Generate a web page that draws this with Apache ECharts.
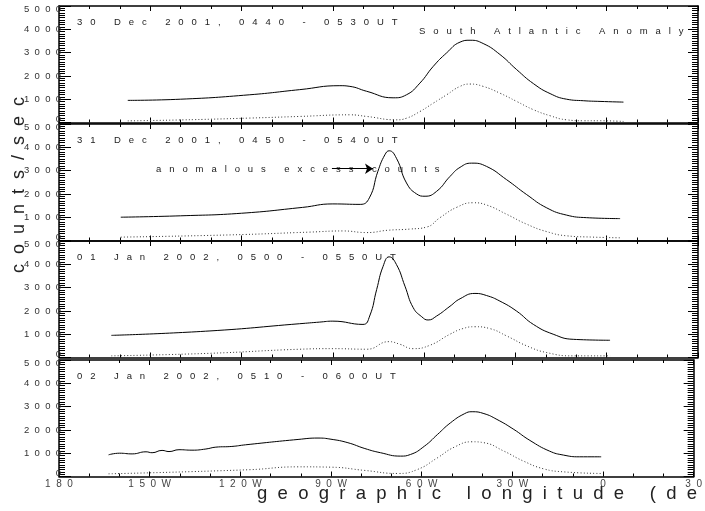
<!DOCTYPE html>
<html>
<head>
<meta charset="utf-8">
<script src="https://cdn.jsdelivr.net/npm/echarts@6/dist/echarts.min.js"></script>
<style>html,body{margin:0;padding:0;background:#fff}#chart{width:705px;height:511px}</style>
</head>
<body>
<div id="chart"></div>
<script>
// ---- data (longitude in degrees east, counts/sec) ----
const panelTitles = [
  '30 Dec 2001, 0440 - 0530UT',
  '31 Dec 2001, 0450 - 0540UT',
  '01 Jan 2002, 0500 - 0550UT',
  '02 Jan 2002, 0510 - 0600UT'
];
const saaLabel = 'South Atlantic Anomaly';
const excessLabel = 'anomalous excess counts';
const arrowStart = [-90.3, 3080];
const arrowEnd = [-76.8, 3080];

const xTickValues = [-180, -150, -120, -90, -60, -30, 0, 30];
const xTickLabels = ['180', '150W', '120W', '90W', '60W', '30W', '0', '30'];
const yTickValues = [0, 1000, 2000, 3000, 4000, 5000];

const lonS1 = [-157.4, -140, -117.3, -100.9, -87.7, -84.4, -78.9, -70.2, -65.8, -61.4, -57.0, -52.6, -48.2, -44.9, -40.6, -35.1, -29.6, -24.1, -18.6, -13.2, -7.7, -2.2, 5.5];
const valS1 = [950, 1000, 1190, 1410, 1580, 1550, 1340, 1060, 1190, 1690, 2410, 2990, 3450, 3530, 3390, 2920, 2270, 1670, 1240, 1000, 935, 905, 875];
const lonD1 = [-157.4, -140, -117.3, -100.9, -84.4, -78.9, -69.1, -65.8, -61.4, -57.0, -52.6, -48.2, -44.9, -40.6, -35.1, -29.6, -24.1, -18.6, -13.2, -7.7, -2.2, 5.5];
const valD1 = [70, 110, 190, 260, 330, 260, 115, 185, 470, 830, 1190, 1550, 1650, 1550, 1260, 905, 550, 290, 115, 75, 75, 45];

const lonS2 = [-159.7, -140, -120, -100, -90, -81, -78, -75.2, -72.9, -71.5, -69.1, -65.8, -62.5, -59.7, -55.9, -51.5, -48.2, -44.4, -39.5, -32.9, -26.3, -19.7, -13.2, -6.6, 4.4];
const valS2 = [1000, 1060, 1170, 1420, 1570, 1550, 1830, 2970, 3680, 3850, 3530, 2470, 2000, 1900, 2110, 2750, 3140, 3320, 3180, 2610, 1970, 1400, 1090, 980, 940];
const lonD2 = [-159.7, -123.9, -97.6, -86.7, -78.8, -71.9, -64.7, -59.1, -54.8, -49.2, -43.9, -39.4, -32.8, -26.3, -19.7, -13.1, -4.5, 4.4];
const valD2 = [145, 240, 360, 410, 340, 440, 490, 580, 980, 1430, 1620, 1520, 1120, 700, 380, 200, 145, 115];

const lonS3 = [-162.8, -130.4, -100.9, -94.3, -90.0, -80.1, -77.9, -75.6, -73.5, -71.5, -69.1, -66.3, -63.6, -60.8, -58.7, -55.9, -51.5, -48.2, -43.3, -39.5, -35.1, -29.6, -24.1, -17.6, -11.0, 1.1];
const valS3 = [950, 1140, 1450, 1520, 1560, 1420, 1780, 2920, 3910, 4320, 3990, 3060, 2140, 1750, 1610, 1780, 2200, 2520, 2750, 2660, 2420, 1990, 1420, 1000, 780, 740];
const lonD3 = [-162.8, -130.4, -100.9, -90.0, -78.8, -71.6, -68.0, -63.7, -58.1, -51.5, -47.3, -43.3, -38.4, -32.8, -26.3, -19.7, -11.1, 1.1];
const valD3 = [70, 180, 355, 380, 355, 680, 570, 380, 525, 1000, 1240, 1320, 1240, 920, 500, 210, 70, 70];

const lonS4 = [-163.6, -160.0, -155.8, -151.2, -149.2, -145.9, -143.6, -140.3, -136.0, -131.4, -128.1, -122.8, -118.3, -100.9, -94.3, -90.0, -84.4, -78.8, -73.6, -67.0, -63.7, -59.1, -54.8, -50.5, -45.9, -43.3, -39.4, -35.1, -29.5, -24.2, -17.7, -13.1, -7.8, -0.6];
const valS4 = [930, 1000, 970, 1060, 1020, 1120, 1070, 1150, 1130, 1180, 1260, 1290, 1360, 1590, 1650, 1600, 1450, 1200, 1020, 875, 945, 1300, 1800, 2300, 2690, 2780, 2700, 2450, 2020, 1550, 1090, 920, 845, 845];
const lonD4 = [-163.6, -117.3, -100.9, -90.0, -78.8, -67.9, -61.4, -54.8, -49.2, -43.3, -39.4, -32.8, -26.3, -19.7, -13.1, -0.6];
const valD4 = [115, 290, 415, 400, 260, 130, 300, 800, 1260, 1490, 1450, 1090, 660, 330, 200, 130];

const solidLon = [lonS1, lonS2, lonS3, lonS4];
const solidVal = [valS1, valS2, valS3, valS4];
const dotLon = [lonD1, lonD2, lonD3, lonD4];
const dotVal = [valD1, valD2, valD3, valD4];

// ---- layout / style ----
const FONT = 'Liberation Sans, Arial, Helvetica, sans-serif';
const panelTops = [6, 124, 241, 360];
const panelH = 116.5;
const spaced = (s, n) => s.split('').join(' '.repeat(n));
const zip = (a, b) => a.map((x, i) => [x, b[i]]);

const grids = panelTops.map(t => ({ left: 59, right: 7, top: t, height: panelH }));
const xAxes = [], yAxes = [], series = [];
for (let i = 0; i < 4; i++) {
  ['bottom', 'top'].forEach(pos => {
    xAxes.push({
      gridIndex: i, type: 'value', position: pos, min: -180, max: 30, interval: 30,
      axisLine: { show: true, onZero: false, lineStyle: { color: '#000', width: 1.5 } },
      axisTick: { show: true, inside: true, length: 5, lineStyle: { color: '#000', width: 1 } },
      minorTick: { show: true, splitNumber: 3, length: 3, lineStyle: { color: '#000', width: 1 } },
      splitLine: { show: false },
      axisLabel: {
        show: (i === 3 && pos === 'bottom'), margin: 3, fontSize: 10, color: '#444', fontFamily: FONT,
        showMinLabel: true, showMaxLabel: true,
        formatter: v => { const k = xTickValues.indexOf(Math.round(v)); return k < 0 ? '' : spaced(xTickLabels[k], 2); }
      }
    });
  });
  ['left', 'right'].forEach(pos => {
    yAxes.push({
      gridIndex: i, type: 'value', position: pos, min: 0, max: 5000, interval: 1000,
      axisLine: { show: true, onZero: false, lineStyle: { color: '#000', width: 1.5 } },
      axisTick: { show: true, inside: true, length: pos === 'left' ? 12 : 10, lineStyle: { color: '#000', width: 1 } },
      minorTick: { show: true, splitNumber: 10, length: 6, lineStyle: { color: '#000', width: 1 } },
      splitLine: { show: false },
      axisLabel: {
        show: pos === 'left', margin: -2, fontSize: 9.5, color: '#333', fontFamily: FONT,
        showMinLabel: true, showMaxLabel: true,
        formatter: v => {
          if (yTickValues.indexOf(v) < 0) return '';
          const s = spaced(String(v), 2);
          if (v === 5000) return '{t|' + s + '}';
          if (v === 0) return '{b|' + s + '}';
          return s;
        },
        rich: {
          t: { padding: [6, 0, 0, 0], fontSize: 9.5, color: '#333', fontFamily: FONT },
          b: { padding: [0, 0, 7, 0], fontSize: 9.5, color: '#333', fontFamily: FONT }
        }
      }
    });
  });
  const s = {
    type: 'line', xAxisIndex: i * 2, yAxisIndex: i * 2, data: zip(solidLon[i], solidVal[i]),
    smooth: 0.5, showSymbol: false, silent: true,
    lineStyle: { color: '#000', width: 1 }
  };
  if (i === 1) {
    s.markLine = {
      silent: true, symbol: ['none', 'arrow'], symbolSize: 8,
      lineStyle: { color: '#000', width: 1, type: 'solid' }, label: { show: false },
      data: [[{ coord: arrowStart }, { coord: arrowEnd }]]
    };
  }
  series.push(s);
  series.push({
    type: 'line', xAxisIndex: i * 2, yAxisIndex: i * 2, data: zip(dotLon[i], dotVal[i]),
    smooth: 0.5, showSymbol: false, silent: true,
    lineStyle: { color: '#333', width: 1, type: [1, 2.2] }
  });
}

const textStyle = (txt, x, y, size) => ({
  type: 'text', x: x, y: y, silent: true,
  style: { text: txt, fill: '#222', font: size + 'px ' + FONT, verticalAlign: 'middle', align: 'left' }
});
const graphics = panelTitles.map((t, i) => textStyle(spaced(t, 3), 77, panelTops[i] + 16, 9.5));
graphics.push(textStyle(spaced(saaLabel, 3), 419, 31, 9.5));
graphics.push(textStyle(spaced(excessLabel, 3), 156, 169, 9.5));
graphics.push(textStyle(spaced('geographic longitude (deg)', 2), 257, 494, 18.5));
graphics.push({
  type: 'text', x: 19, y: 185, rotation: Math.PI / 2, silent: true,
  style: { text: spaced('counts/sec', 2), fill: '#222', font: '18px ' + FONT, verticalAlign: 'middle', align: 'center' }
});

const chart = echarts.init(document.getElementById('chart'), null, { renderer: 'canvas' });
chart.setOption({
  animation: false,
  backgroundColor: '#fff',
  grid: grids,
  xAxis: xAxes,
  yAxis: yAxes,
  series: series,
  graphic: graphics
});
</script>
</body>
</html>
